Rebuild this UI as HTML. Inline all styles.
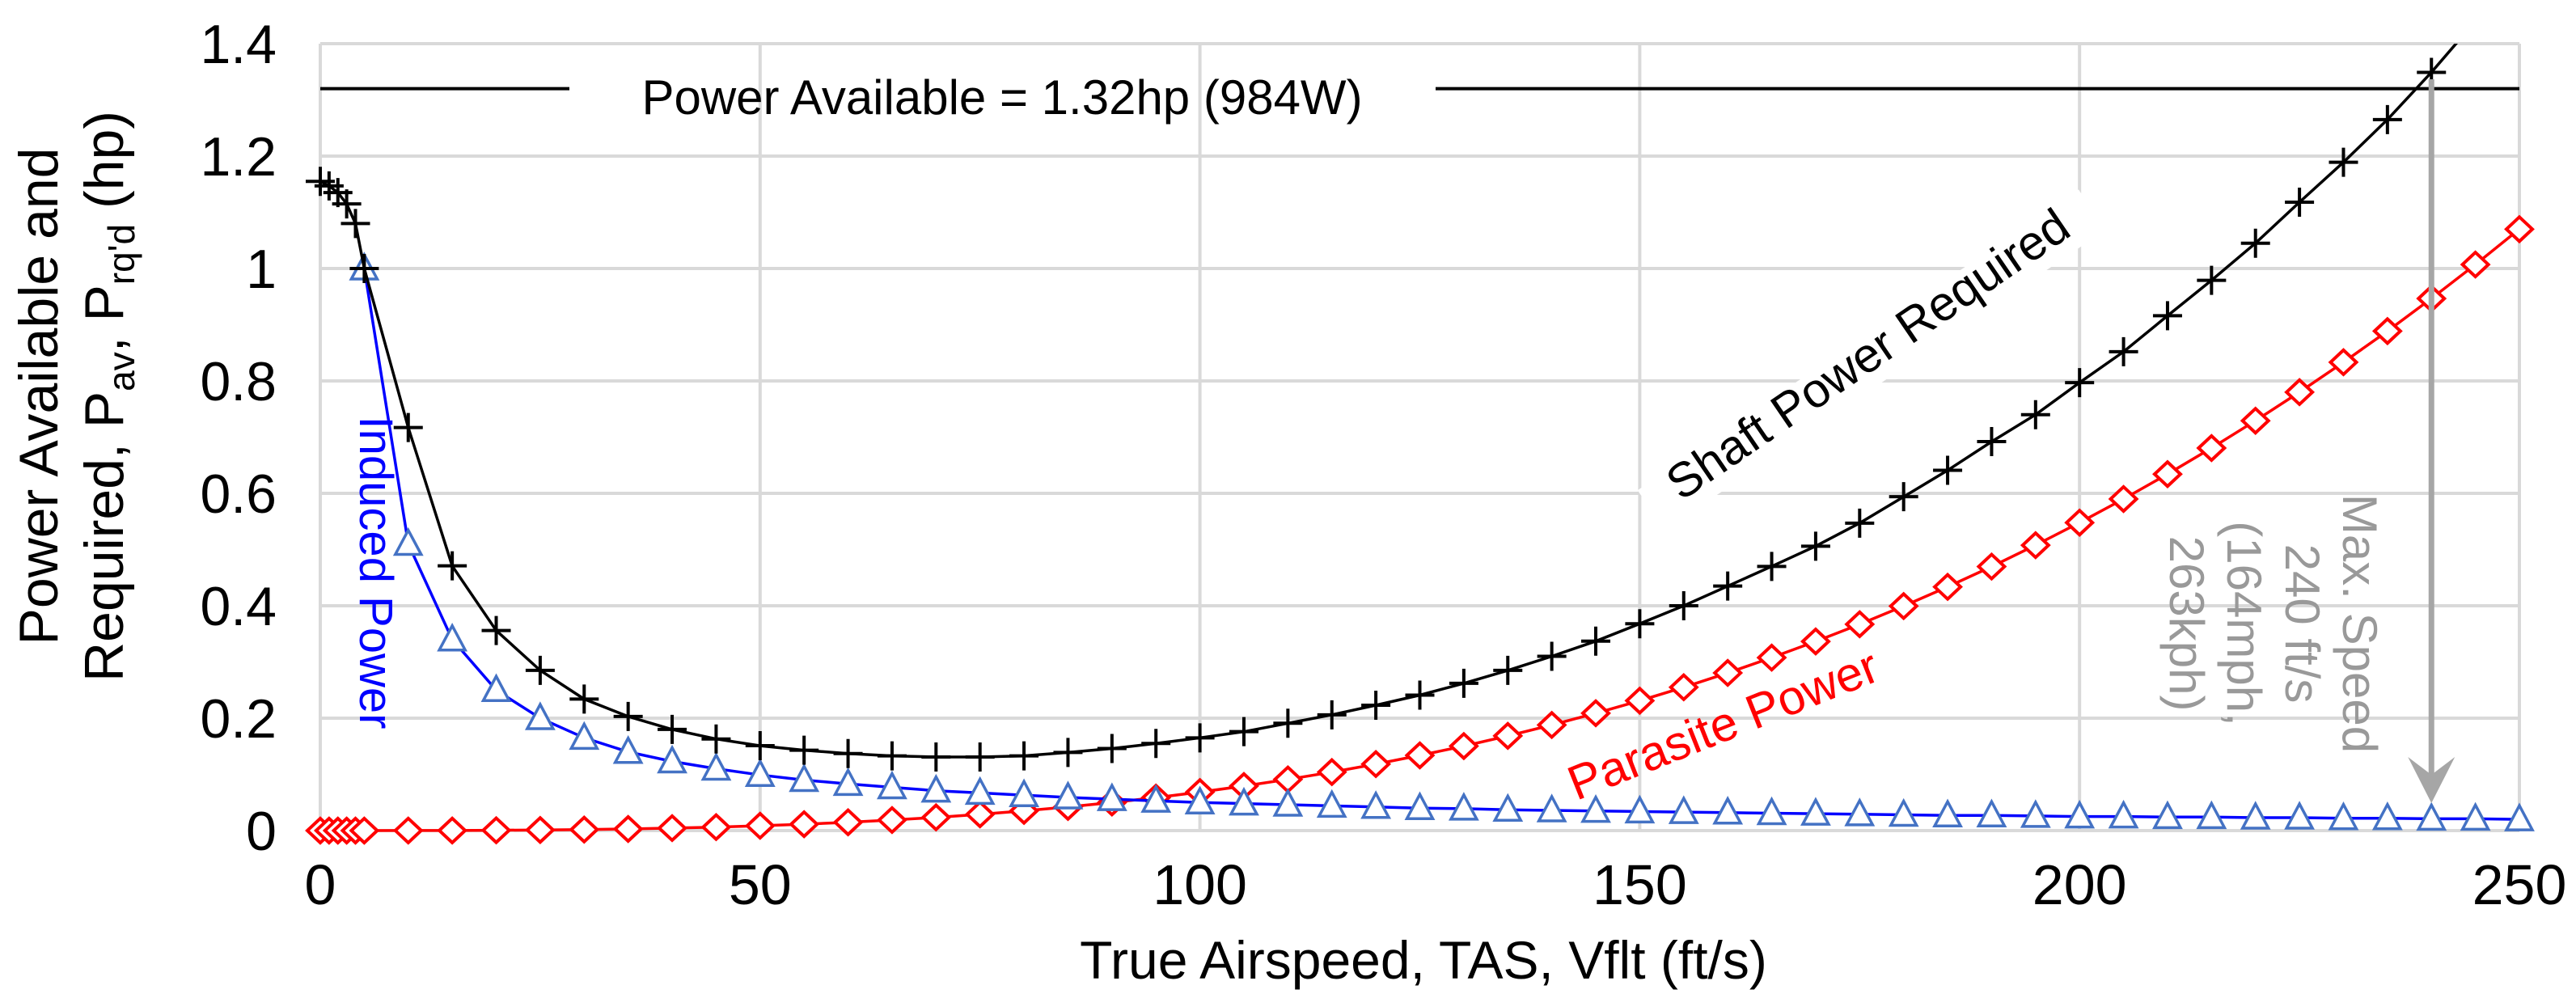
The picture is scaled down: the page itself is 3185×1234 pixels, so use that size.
<!DOCTYPE html>
<html><head><meta charset="utf-8"><style>
html,body{margin:0;padding:0;background:#fff;}
svg{display:block;font-family:"Liberation Sans",Arial,sans-serif;}
</style></head><body>
<svg id="chart" width="3185" height="1234" viewBox="0 0 3185 1234" xmlns="http://www.w3.org/2000/svg">
<defs><clipPath id="plotclip"><rect x="340" y="54" width="2830" height="1010"/></clipPath></defs>
<g id="grid"></g>
<g id="ticks"></g>
<g id="series" clip-path="url(#plotclip)"></g>
<g id="annot"></g>
</svg>
<script>
const xTicks = [0, 50, 100, 150, 200, 250];
const yTicks = [0, 0.2, 0.4, 0.6, 0.8, 1, 1.2, 1.4];
const yTickLabels = ["0", "0.2", "0.4", "0.6", "0.8", "1", "1.2", "1.4"];
const powerAvailable = 1.32;
const maxSpeed = 240;

const shaftX = [0,1,2,3,4,5,10,15,20,25,30,35,40,45,50,55,60,65,70,75,80,85,90,95,100,105,110,115,120,125,130,135,140,145,150,155,160,165,170,175,180,185,190,195,200,205,210,215,220,225,230,235,240,245];
const shaftY = [1.155,1.147,1.135,1.115,1.08,1.0,0.717,0.471,0.356,0.285,0.234,0.203,0.18,0.163,0.151,0.143,0.137,0.133,0.131,0.131,0.133,0.139,0.146,0.155,0.165,0.176,0.191,0.206,0.223,0.241,0.262,0.285,0.31,0.337,0.368,0.40,0.435,0.47,0.506,0.547,0.594,0.641,0.692,0.74,0.797,0.852,0.916,0.979,1.045,1.118,1.189,1.265,1.349,1.44];

const parX = [0,1,2,3,4,5,10,15,20,25,30,35,40,45,50,55,60,65,70,75,80,85,90,95,100,105,110,115,120,125,130,135,140,145,150,155,160,165,170,175,180,185,190,195,200,205,210,215,220,225,230,235,240,245,250];
const parY = [0,0,0,0,0,0,0.0001,0.0002,0.0006,0.0011,0.0018,0.0029,0.0044,0.0062,0.0086,0.0114,0.0148,0.0188,0.0235,0.0289,0.0351,0.0421,0.0499,0.0587,0.0685,0.0793,0.0911,0.1041,0.1183,0.1338,0.1504,0.1685,0.1879,0.2088,0.2311,0.255,0.2805,0.3077,0.3365,0.3671,0.3994,0.4336,0.4697,0.5077,0.5479,0.59,0.6342,0.6806,0.7292,0.78,0.8332,0.8887,0.9466,1.0071,1.07];

const indX = [5,10,15,20,25,30,35,40,45,50,55,60,65,70,75,80,85,90,95,100,105,110,115,120,125,130,135,140,145,150,155,160,165,170,175,180,185,190,195,200,205,210,215,220,225,230,235,240,245,250];
const indY = [1.0,0.51,0.34,0.25,0.20,0.165,0.14,0.123,0.11,0.099,0.09,0.083,0.077,0.071,0.067,0.063,0.059,0.056,0.053,0.05,0.048,0.046,0.044,0.042,0.04,0.039,0.037,0.036,0.035,0.034,0.033,0.032,0.031,0.03,0.029,0.028,0.027,0.027,0.026,0.025,0.025,0.024,0.024,0.023,0.023,0.022,0.022,0.021,0.021,0.02];

const NS = "http://www.w3.org/2000/svg";
const X0 = 396, X1 = 3115, Y0 = 1027, Y1 = 54;
function xs(v){ return X0 + (v - 0) / 250 * (X1 - X0); }
function ys(v){ return Y0 - v / 1.4 * (Y0 - Y1); }
function mk(tag, attrs, parent){
  const e = document.createElementNS(NS, tag);
  for (const k in attrs) e.setAttribute(k, attrs[k]);
  parent.appendChild(e);
  return e;
}
const grid = document.getElementById('grid');
const ticks = document.getElementById('ticks');
const series = document.getElementById('series');
const annot = document.getElementById('annot');

yTicks.forEach((t, i) => {
  const l = mk('line', {x1: X0, x2: X1, y1: ys(t), y2: ys(t), stroke: '#d9d9d9', 'stroke-width': 4}, grid);
  
  
  const tx = mk('text', {x: 342, y: ys(t) + 24, 'text-anchor': 'end', 'font-size': 68, fill: '#000'}, ticks);
  tx.textContent = yTickLabels[i];
  
  
});
xTicks.forEach(t => {
  const l = mk('line', {x1: xs(t), x2: xs(t), y1: Y1, y2: Y0, stroke: '#d9d9d9', 'stroke-width': 4}, grid);
  
  
  const tx = mk('text', {x: xs(t), y: 1118, 'text-anchor': 'middle', 'font-size': 70, fill: '#000'}, ticks);
  tx.textContent = String(t);
  
  
});

// power available line with gap for label
const pa1 = mk('line', {x1: X0, x2: 704, y1: ys(powerAvailable), y2: ys(powerAvailable), stroke: '#000', 'stroke-width': 4}, annot);


const pa2 = mk('line', {x1: 1775, x2: X1, y1: ys(powerAvailable), y2: ys(powerAvailable), stroke: '#000', 'stroke-width': 4}, annot);


const pat = mk('text', {x: 1239, y: 141, 'text-anchor': 'middle', 'font-size': 60, fill: '#000'}, annot);
pat.textContent = 'Power Available = 1.32hp (984W)';



function path(xa, ya){ return xa.map((x, i) => (i ? 'L' : 'M') + xs(x).toFixed(1) + ' ' + ys(ya[i]).toFixed(1)).join(' '); }

// parasite
const pl = mk('path', {d: path(parX, parY), fill: 'none', stroke: '#ff0000', 'stroke-width': 3.5}, series);


parX.forEach((x, i) => {
  const cx = xs(x), cy = ys(parY[i]);
  const d = mk('path', {d: `M${cx-16} ${cy} L${cx} ${cy-15} L${cx+16} ${cy} L${cx} ${cy+15} Z`, fill: '#fff', stroke: '#ff0000', 'stroke-width': 4}, series);
  
  
});
// induced
const il = mk('path', {d: path(indX, indY), fill: 'none', stroke: '#0000ff', 'stroke-width': 3.5}, series);


indX.forEach((x, i) => {
  const cx = xs(x), cy = ys(indY[i]);
  const d = mk('path', {d: `M${cx-16} ${cy+13} L${cx} ${cy-17} L${cx+16} ${cy+13} Z`, fill: '#fff', stroke: '#4472c4', 'stroke-width': 3.5}, series);
  
  
});
// shaft
const sl = mk('path', {d: path(shaftX, shaftY), fill: 'none', stroke: '#000', 'stroke-width': 3.5}, series);


shaftX.forEach((x, i) => {
  const cx = xs(x), cy = ys(shaftY[i]);
  const d = mk('path', {d: `M${cx-18} ${cy} L${cx+18} ${cy} M${cx} ${cy-18} L${cx} ${cy+18}`, stroke: '#000', 'stroke-width': 4}, series);
  
  
});

// max speed arrow
const ax = xs(maxSpeed);
const ar = mk('line', {x1: ax, x2: ax, y1: 98, y2: 975, stroke: '#a6a6a6', 'stroke-width': 7}, annot);


const ah = mk('path', {d: `M${ax-29} 936 L${ax} 993 L${ax+29} 936 L${ax} 958 Z`, fill: '#a6a6a6'}, annot);


</script>
<svg style="position:absolute;left:0;top:0" width="3185" height="1234" viewBox="0 0 3185 1234" xmlns="http://www.w3.org/2000/svg" font-family="Liberation Sans, Arial, sans-serif">
  <g transform="translate(2321,455) rotate(-34.3)">
    <rect x="-330" y="-42" width="660" height="60" fill="#fff"/>
    <text x="0" y="0" text-anchor="middle" font-size="60" fill="#000">Shaft Power Required</text>
  </g>
  <text transform="translate(2138,915) rotate(-21.7)" text-anchor="middle" font-size="60" fill="#ff0000">Parasite Power</text>
  <text transform="translate(445,708) rotate(90)" text-anchor="middle" font-size="58" fill="#0000ff">Induced Power</text>
  <g fill="#999" font-size="60" text-anchor="middle">
    <text transform="translate(2897,771) rotate(90)">Max. Speed</text>
    <text transform="translate(2826,771) rotate(90)">240 ft/s</text>
    <text transform="translate(2754,771) rotate(90)">(164mph,</text>
    <text transform="translate(2683,771) rotate(90)">263kph)</text>
  </g>
  <text x="1760" y="1210" text-anchor="middle" font-size="66" fill="#000">True Airspeed, TAS, Vflt (ft/s)</text>
  <g font-size="68" fill="#000" text-anchor="middle">
    <text transform="translate(71,490) rotate(-90)">Power Available and</text>
    <text transform="translate(152,490) rotate(-90)">Required, P<tspan font-size="46" dy="14">av</tspan><tspan dy="-14">, P</tspan><tspan font-size="46" dy="14">rq'd</tspan><tspan dy="-14"> (hp)</tspan></text>
  </g>
</svg>
</body></html>
